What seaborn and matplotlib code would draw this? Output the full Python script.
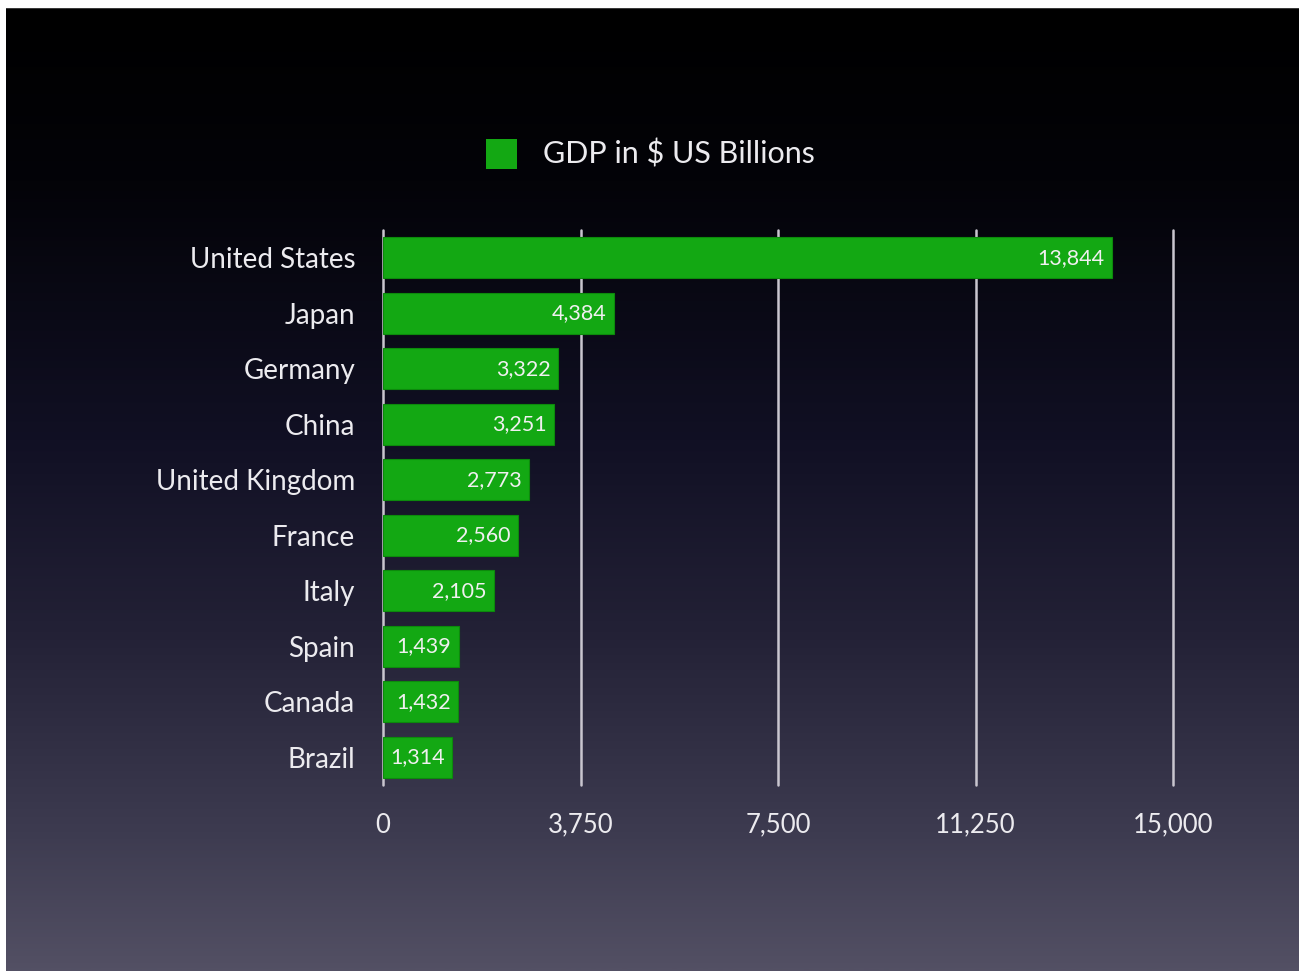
import numpy as np
import pandas as pd
import matplotlib
matplotlib.use("Agg")
import matplotlib.pyplot as plt
from matplotlib.colors import LinearSegmentedColormap
from matplotlib.patches import Rectangle
import seaborn as sns

countries = ["United States", "Japan", "Germany", "China", "United Kingdom",
             "France", "Italy", "Spain", "Canada", "Brazil"]
gdp = [13844, 4384, 3322, 3251, 2773, 2560, 2105, 1439, 1432, 1314]
x_ticks = [0, 3750, 7500, 11250, 15000]
series_name = "GDP in $ US Billions"

df = pd.DataFrame({"country": countries, "gdp": gdp})

sns.set_theme(style="dark")
plt.rcParams["font.family"] = ["Lato", "DejaVu Sans"]

W, H = 1299, 971
fig = plt.figure(figsize=(W / 100, H / 100), dpi=100, facecolor="white")

# slide background: black at the top fading to a grey-violet at the bottom
bg = fig.add_axes([6 / W, 0, 1 - 6 / W, 1 - 8 / H], zorder=0)
stops = [(0.0, "#000000"), (0.18, "#030308"), (0.45, "#111024"),
         (0.65, "#232136"), (0.85, "#3c3a4f"), (1.0, "#535064")]
cmap = LinearSegmentedColormap.from_list("slide", stops)
grad = np.linspace(0, 1, 512).reshape(-1, 1)
bg.imshow(grad, aspect="auto", cmap=cmap, extent=[0, 1, 0, 1], origin="upper")
bg.axhline(1, color="#3a3a3a", lw=1.5)
bg.set_axis_off()

green = "#13a813"
ax = fig.add_axes([383 / W, 1 - 785 / H, (1173 - 383) / W, (785 - 230) / H], zorder=1)
ax.set_facecolor("none")
sns.barplot(data=df, x="gdp", y="country", orient="h", color=green,
            saturation=1, width=0.73, edgecolor="#0c8a0c", linewidth=0.8,
            ax=ax, zorder=3)

ax.set_xlim(0, 15000)
ax.set_ylim(9.5, -0.5)
ax.set_xticks(x_ticks)
ax.set_xticklabels([f"{t:,}" for t in x_ticks])
for t in x_ticks:
    ax.axvline(t, color="#c9c6cf", lw=1.8, zorder=2, clip_on=False)
ax.grid(False)
for s in ax.spines.values():
    s.set_visible(False)
ax.set_xlabel("")
ax.set_ylabel("")
ax.tick_params(axis="x", length=0, pad=20, labelsize=18.5, colors="#ecebef")
ax.tick_params(axis="y", length=0, pad=20, labelsize=20, colors="#ecebef")

for i, v in enumerate(gdp):
    ax.text(v - 140, i, f"{v:,}", ha="right", va="center",
            color="#f0f0f0", fontsize=15.5, zorder=4)

# legend swatch and label above the plot
fig.patches.append(Rectangle((486 / W, 1 - 169 / H), 31 / W, 30 / H,
                             transform=fig.transFigure, facecolor=green,
                             edgecolor="none", zorder=5))
fig.text(543 / W, 1 - 154 / H, series_name, color="#ecebef", fontsize=22,
         va="center", ha="left", zorder=5)

fig.savefig("out.png", dpi=100, facecolor="white")
